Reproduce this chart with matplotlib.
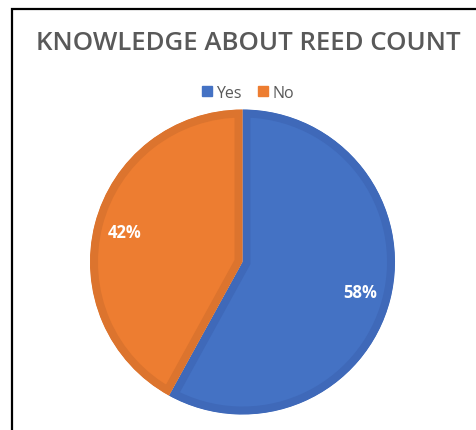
import matplotlib.pyplot as plt
from matplotlib.patches import Rectangle
from matplotlib.lines import Line2D

# dados da pesquisa
categorias = ['Yes', 'No']
percentuais = [58, 42]

COR_CLARA = ['#4472C4', '#ED7D31']
COR_ESCURA = ['#3F69B9', '#DC742E']
COR_TEXTO = '#595959'

W, H = 477, 431
fig = plt.figure(figsize=(W / 100, H / 100), dpi=100)
ax = fig.add_axes([0, 0, 1, 1])

# moldura preta (sai pelas bordas direita e inferior)
ax.add_patch(Rectangle((12, -20), 600, H - 10 + 20, fill=False,
                       edgecolor='black', linewidth=1.6, zorder=5))

# pizza com borda interna mais escura em cada fatia
cx, cy, raio = 242.5, H - 263, 152.5
banda = 8  # px
wedges, textos, autotextos = ax.pie(
    percentuais, colors=COR_CLARA, startangle=90, counterclock=False,
    center=(cx, cy), radius=raio, autopct='%1.0f%%', pctdistance=0.8,
    frame=True,
    wedgeprops=dict(linewidth=2 * banda * 72 / 100, joinstyle='miter'),
    textprops=dict(color='white', fontsize=12, fontweight='bold',
                   family='Open Sans'))
for w, esc in zip(wedges, COR_ESCURA):
    w.set_edgecolor(esc)
    w.set_clip_on(True)
    w.set_clip_path(w)

ax.set_xlim(0, W)
ax.set_ylim(0, H)
ax.set_aspect('equal')
ax.axis('off')

# titulo
ax.text(248, H - 43, 'KNOWLEDGE ABOUT REED COUNT', ha='center', va='center',
        fontsize=18.6, fontweight='semibold', color=COR_TEXTO, family='Open Sans')

# legenda
handles = [Line2D([], [], marker='s', linestyle='none', markersize=7,
                  markerfacecolor=c, markeredgecolor=c) for c in COR_CLARA]
fig.legend(handles, categorias, loc='center', bbox_to_anchor=(247 / W, 1 - 94 / H),
           ncol=2, frameon=False, handletextpad=0.1,
           columnspacing=0.9, handlelength=0.9, labelcolor=COR_TEXTO,
           prop=dict(family='Open Sans', size=11.5))

fig.savefig('out.png', dpi=100)
